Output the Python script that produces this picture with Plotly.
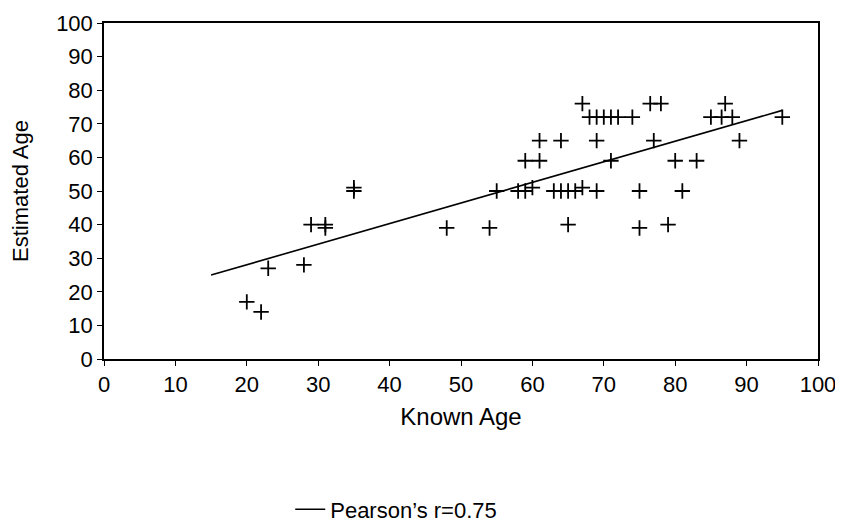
import plotly.graph_objects as go

known_age = [20, 22, 23, 28, 29, 31, 31, 35, 35,
             48, 54, 55, 58, 59, 60, 59, 61,
             61, 64, 69, 77,
             63, 64, 65, 66, 67, 69, 75, 81,
             65, 75, 79,
             67, 76.5, 78, 87,
             68, 69, 70, 71, 72, 74, 85, 86.5, 88, 95,
             71, 80, 83, 89]
estimated_age = [17, 14, 27, 28, 40, 40, 39, 51, 50,
                 39, 39, 50, 50, 50, 51, 59, 59,
                 65, 65, 65, 65,
                 50, 50, 50, 50, 51, 50, 50, 50,
                 40, 39, 40,
                 76, 76, 76, 76,
                 72, 72, 72, 72, 72, 72, 72, 72, 72, 72,
                 59, 59, 59, 65]

fit_x = [15, 95]
fit_y = [25, 74]
legend_label = "Pearson\u2019s r=0.75"

font_family = "Liberation Sans, Arial, sans-serif"

fig = go.Figure()
fig.add_trace(go.Scatter(
    x=known_age, y=estimated_age, mode="markers", showlegend=False,
    marker=dict(symbol="cross-thin", size=11, color="black",
                line=dict(color="black", width=1.8)),
))
fig.add_trace(go.Scatter(
    x=fit_x, y=fit_y, mode="lines", name=legend_label,
    line=dict(color="black", width=1.6),
))

axis_common = dict(
    showgrid=False, zeroline=False, showline=True, linecolor="black",
    linewidth=1.5, mirror=True, ticks="outside", ticklen=5, tickwidth=1.2,
    tickcolor="black", range=[0, 100], dtick=10, automargin=False,
    ticklabeloverflow="allow",
    tickfont=dict(family=font_family, size=22, color="black"),
)

# the page body adds an 8px offset, so the figure is sized to fit the window
fig.update_layout(
    width=835, height=517,
    paper_bgcolor="white", plot_bgcolor="white",
    margin=dict(l=96, r=25, t=15, b=166),
    font=dict(family=font_family, size=22, color="black"),
    xaxis=dict(**axis_common,
               title=dict(text="Known Age", standoff=12,
                          font=dict(family=font_family, size=24))),
    yaxis=dict(**axis_common,
               title=dict(text="Estimated Age", standoff=22,
                          font=dict(family=font_family, size=22))),
    legend=dict(orientation="h", xref="container", yref="container",
                x=0.338, xanchor="left", y=0.03, yanchor="middle",
                font=dict(family=font_family, size=22)),
)

fig.write_html("out.html")
